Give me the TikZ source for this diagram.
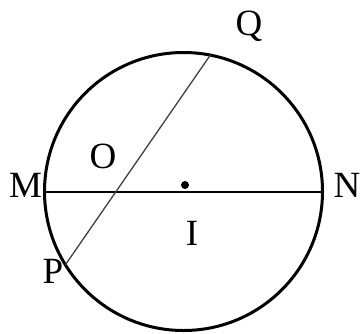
\documentclass[tikz,border=0pt]{standalone}
\usepackage{fontspec}
\setmainfont{Liberation Serif}
\usetikzlibrary{calc}
\begin{document}
\begin{tikzpicture}[x=1pt,y=-1pt,
  lbl/.style={font=\fontsize{37}{40}\selectfont, inner sep=0pt, anchor=base},
  circ/.style={line width=3pt},
  diam/.style={line width=2pt},
  chord/.style={line width=1.3pt, draw=black!75}]
\useasboundingbox (0,0) rectangle (363,333);
\coordinate (I) at (183.5,191.5);
\coordinate (M) at (44.5,191.5);
\coordinate (N) at (322.5,191.5);
\coordinate (Q) at (210.3,55.1);
\coordinate (P) at (65.4,264.8);
\draw[circ] (I) circle[radius=139];
\draw[diam] (M) -- (N);
\draw[chord] (P) -- (Q);
\fill (185,185) circle[radius=4];
\node[lbl] (lQ) at (249,35) {Q};
\node[lbl] (lO) at (103,168) {O};
\node[lbl] (lM) at (25.5,197) {M};
\node[lbl] (lN) at (347,197) {N};
\node[lbl] (lI) at (192,245) {I};
\node[lbl] (lP) at (53,283) {P};
\end{tikzpicture}
\end{document}
